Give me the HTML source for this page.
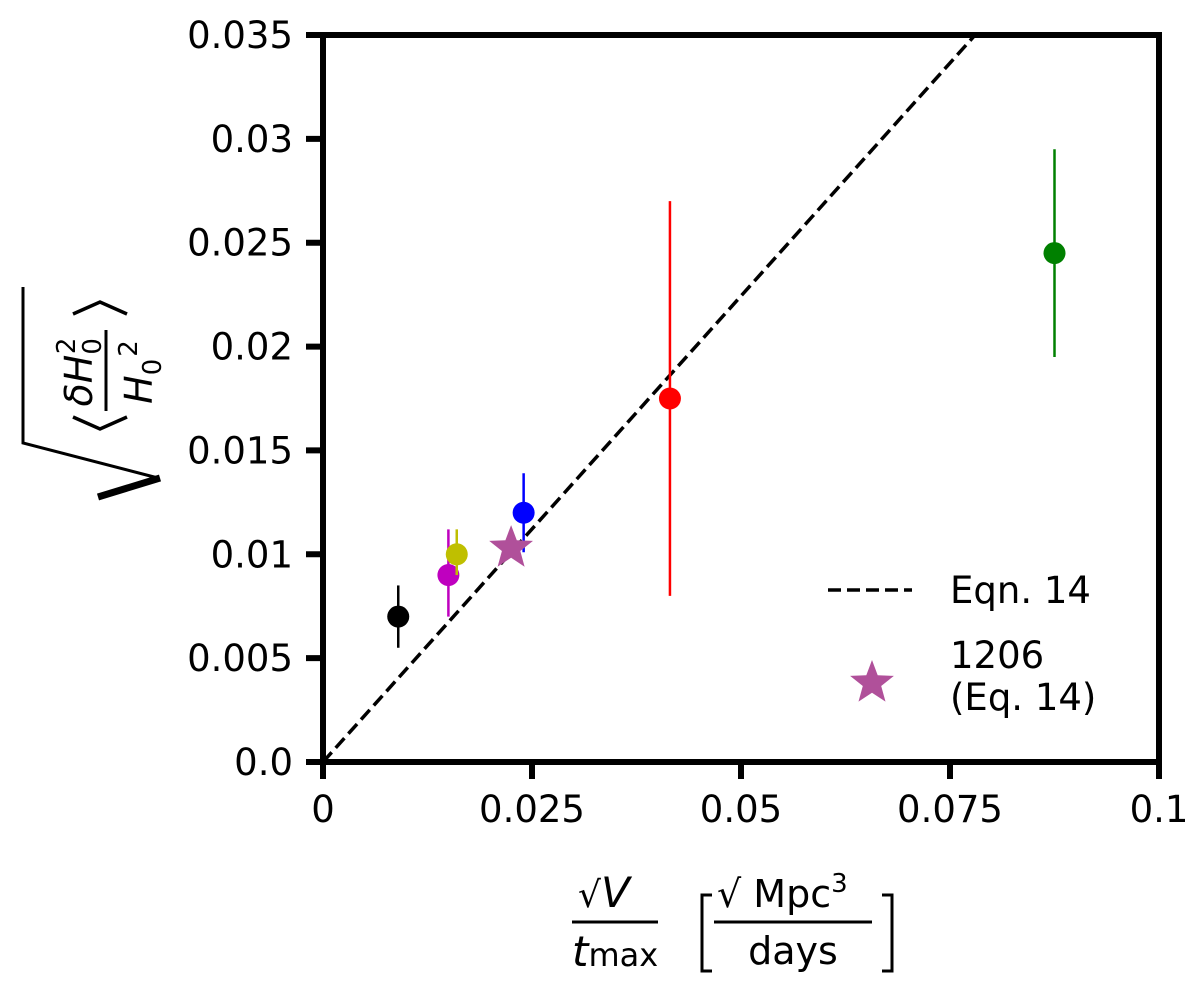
<!DOCTYPE html>
<html><head><meta charset="utf-8"><style>
html,body{margin:0;padding:0;background:#fff}
svg{display:block;font-family:"DejaVu Sans","Liberation Sans",sans-serif}
</style></head><body>
<svg id="chart" width="1200" height="993" viewBox="0 0 1200 993">
<g id="marks"></g>
<g id="axes"></g>
<g fill="none" stroke="#000">
  <polyline points="23,287 23,443 158,478" stroke-width="3"/>
  <polyline points="160,478 98,497" stroke-width="7"/>
  <line x1="106" y1="330" x2="106" y2="411" stroke-width="3"/>
  <polyline points="73,314 100,302 127,314" stroke-width="3.5"/>
  <polyline points="73,417 100,429 127,417" stroke-width="3.5"/>
  <text transform="translate(92,372) rotate(-90)" text-anchor="middle" font-size="38" font-style="italic" fill="#000" stroke="none">δH<tspan font-size="26" dy="9" font-style="normal">0</tspan><tspan font-size="26" dx="-16" dy="-26" font-style="normal">2</tspan></text>
  <text transform="translate(152,372) rotate(-90)" text-anchor="middle" font-size="38" font-style="italic" fill="#000" stroke="none">H<tspan font-size="26" dy="9" font-style="normal">0</tspan><tspan font-size="26" dy="-24" dx="2" font-style="normal">2</tspan></text>
</g>
<g>
  <text x="578" y="907" font-size="36">√<tspan font-style="italic" font-size="42">V</tspan></text>
  <line x1="572" y1="922" x2="658" y2="922" stroke="#000" stroke-width="3"/>
  <text x="572" y="966" font-size="42" font-style="italic">t<tspan font-style="normal" font-size="32">max</tspan></text>
  <polyline points="712,895 702,895 702,971 712,971" fill="none" stroke="#000" stroke-width="3"/>
  <polyline points="882,895 892,895 892,971 882,971" fill="none" stroke="#000" stroke-width="3"/>
  <text x="717" y="907" font-size="38">√ Mpc<tspan font-size="26" dy="-15">3</tspan></text>
  <line x1="714" y1="922" x2="872" y2="922" stroke="#000" stroke-width="3"/>
  <text x="793" y="964" font-size="38" text-anchor="middle">days</text>
</g>
<g>
  <line x1="828" y1="590" x2="912" y2="590" stroke="#000" stroke-width="3.5" stroke-dasharray="13,6"/>
  <text x="950" y="603" font-size="37">Eqn. 14</text>
  <polygon id="legstar" fill="#b0509a"/>
  <text x="950" y="668" font-size="37">1206</text>
  <text x="950" y="710" font-size="37">(Eq. 14)</text>
</g>
</svg>
<script>
const categories = ['black','magenta','yellow','blue','red','green'];
const xValues = [0.009, 0.015, 0.016, 0.024, 0.0415, 0.0875];
const yValues = [0.007, 0.009, 0.010, 0.012, 0.0175, 0.0245];
const yLow = [0.0055, 0.007, 0.009, 0.0101, 0.008, 0.0195];
const yHigh = [0.0085, 0.0112, 0.0112, 0.0139, 0.027, 0.0295];
const colors = ['#000000','#bf00bf','#bfbf00','#0000ff','#ff0000','#008000'];
const starX = [0.0225];
const starY = [0.0103];
const lineSlope = [0.4487];
const xTicks = [0, 0.025, 0.05, 0.075, 0.1];
const xTickLabels = ['0','0.025','0.05','0.075','0.1'];
const yTicks = [0, 0.005, 0.01, 0.015, 0.02, 0.025, 0.03, 0.035];
const yTickLabels = ['0.0','0.005','0.01','0.015','0.02','0.025','0.03','0.035'];

const L=323,R=1159,T=35,B=762;
const sx=v=>L+(v-0)/(0.1)*(R-L);
const sy=v=>B-(v-0)/(0.035)*(B-T);
const NS='http://www.w3.org/2000/svg';
const mk=(p,t,a)=>{const e=document.createElementNS(NS,t);for(const k in a)e.setAttribute(k,a[k]);p.appendChild(e);return e;};
const marks=document.getElementById('marks'), axes=document.getElementById('axes');
function starPts(cx,cy,r){let p=[];for(let i=0;i<10;i++){const rr=i%2?r*0.42:r;const a=-Math.PI/2+i*Math.PI/5;p.push((cx+rr*Math.cos(a)).toFixed(1)+','+(cy+rr*Math.sin(a)).toFixed(1));}return p.join(' ');}

const x2=0.035/lineSlope[0];
const dl=mk(marks,'line',{x1:sx(0),y1:sy(0),x2:sx(x2),y2:sy(x2*lineSlope[0]),stroke:'#000','stroke-width':3.5,'stroke-dasharray':'13,6'});



for(let i=0;i<xValues.length;i++){
  const eb=mk(marks,'line',{x1:sx(xValues[i]),x2:sx(xValues[i]),y1:sy(yLow[i]),y2:sy(yHigh[i]),stroke:colors[i],'stroke-width':2.5});
  
  
  const c=mk(marks,'circle',{cx:sx(xValues[i]),cy:sy(yValues[i]),r:11,fill:colors[i]});
  
  
}
const st=mk(marks,'polygon',{points:starPts(sx(starX[0]),sy(starY[0]),23),fill:'#b0509a'});


document.getElementById('legstar').setAttribute('points',starPts(872,683,23));

const fr=mk(axes,'rect',{x:L,y:T,width:R-L,height:B-T,fill:'none',stroke:'#000','stroke-width':6});


xTicks.forEach((v,i)=>{
  const t=mk(axes,'line',{x1:sx(v),x2:sx(v),y1:B,y2:B+17,stroke:'#000','stroke-width':6});
  
  
  const tx=mk(axes,'text',{x:sx(v),y:B+60,'text-anchor':'middle','font-size':37});
  tx.textContent=xTickLabels[i];
  
  
});
yTicks.forEach((v,i)=>{
  const t=mk(axes,'line',{x1:L-17,x2:L,y1:sy(v),y2:sy(v),stroke:'#000','stroke-width':6});
  
  
  const tx=mk(axes,'text',{x:L-30,y:sy(v)+13,'text-anchor':'end','font-size':37});
  tx.textContent=yTickLabels[i];
  
  
});
</script>
</body></html>
